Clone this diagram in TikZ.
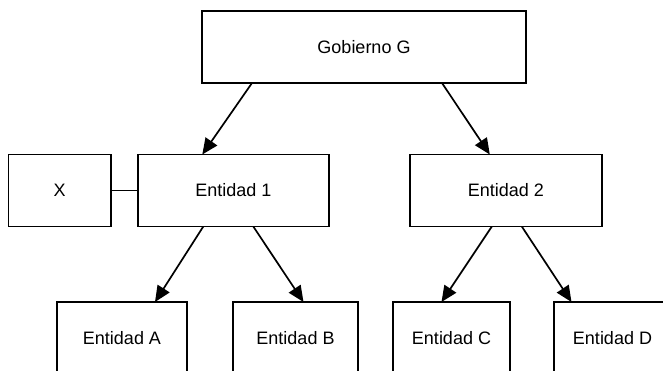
\documentclass[tikz,border=0pt]{standalone}
\usepackage{fontspec}
\setmainfont{Liberation Sans}
\usetikzlibrary{arrows.meta}
\begin{document}
\begin{tikzpicture}[x=1pt,y=-1pt,
  box/.style={draw=black,line width=1.8pt,fill=white,minimum height=72pt,inner sep=0pt,outer sep=0pt,font=\fontsize{18}{21}\selectfont},
  arr/.style={line width=1.7pt,-{Triangle[length=16pt,width=14pt]}},
  link/.style={line width=1.8pt}]
\useasboundingbox (0,0) rectangle (663,370);
\node[box,minimum width=324pt] (G) at (364,47) {Gobierno G};
\node[box,minimum width=102.5pt] (X) at (59.75,190.5) {X};
\node[box,minimum width=191.3pt] (E1) at (233.3,190.5) {Entidad 1};
\node[box,minimum width=191.7pt] (E2) at (505.8,190.5) {Entidad 2};
\node[box,minimum width=129.4pt] (A) at (122,338) {Entidad A};
\node[box,minimum width=125pt] (B) at (295.5,338) {Entidad B};
\node[box,minimum width=117pt] (C) at (451.5,338) {Entidad C};
\node[box,minimum width=117pt] (D) at (612.5,338) {Entidad D};
\draw[link] (X.east) -- (E1.west);
\draw[arr] ([xshift=-112pt]G.south) -- ([xshift=-31pt]E1.north);
\draw[arr] ([xshift=78pt]G.south) -- ([xshift=-16pt]E2.north);
\draw[arr] ([xshift=-30pt]E1.south) -- ([xshift=33pt]A.north);
\draw[arr] ([xshift=20pt]E1.south) -- ([xshift=8pt]B.north);
\draw[arr] ([xshift=-14pt]E2.south) -- ([xshift=-10pt]C.north);
\draw[arr] ([xshift=16pt]E2.south) -- ([xshift=-41pt]D.north);
\end{tikzpicture}
\end{document}
